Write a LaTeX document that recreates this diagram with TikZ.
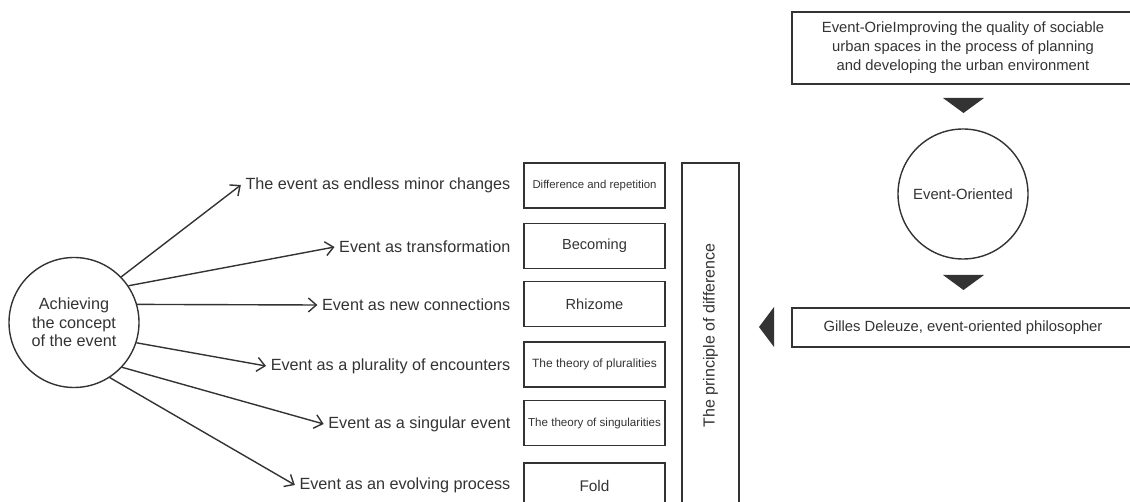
\documentclass[tikz,border=0pt]{standalone}
\usepackage{fontspec}
\setmainfont{Liberation Sans}
\usetikzlibrary{arrows.meta}
\definecolor{ink}{HTML}{333333}

\begin{document}
\begin{tikzpicture}[x=0.5pt,y=-0.5pt,ink,line width=0.7pt,
    every node/.style={text=ink},
    ring/.style={draw,circle,minimum size=65pt,inner sep=0pt,align=center,font=\fontsize{8.1}{9.2}\selectfont},
    lbl/.style={anchor=east,inner sep=2pt,font=\fontsize{8.1}{9.6}\selectfont},
    cell/.style={draw,minimum width=70.5pt,minimum height=22.5pt,inner sep=0pt},
    wide/.style={draw,minimum width=171pt,inner sep=0pt,align=center,font=\fontsize{7.4}{9.5}\selectfont},
    arr/.style={-{Straight Barb[length=4pt,width=7pt]}}]
    \useasboundingbox (0,0) rectangle (1130,502);
    \clip (0,0) rectangle (1130,502);

    % left: the concept and its six readings
    \node[ring] (concept) at (74,322.5) {Achieving\\the concept\\of the event};

    \node[cell,font=\fontsize{5.7}{7}\selectfont] (b1) at (594.5,185.5) {Difference and repetition};
    \node[cell,font=\fontsize{7.3}{9}\selectfont] (b2) at (594.5,246) {Becoming};
    \node[cell,font=\fontsize{7.3}{9}\selectfont] (b3) at (594.5,304) {Rhizome};
    \node[cell,font=\fontsize{6}{7}\selectfont] (b4) at (594.5,364.5) {The theory of pluralities};
    \node[cell,font=\fontsize{5.8}{7}\selectfont] (b5) at (594.5,423) {The theory of singularities};
    \node[cell,font=\fontsize{7.7}{9}\selectfont] (b6) at (594.5,485.5) {Fold};

    \node[lbl] (l1) at (515,185) {The event as endless minor changes};
    \node[lbl] (l2) at (515,247) {Event as transformation};
    \node[lbl] (l3) at (515,305) {Event as new connections};
    \node[lbl] (l4) at (515,366) {Event as a plurality of encounters};
    \node[lbl] (l5) at (515,424) {Event as a singular event};
    \node[lbl] (l6) at (515,485) {Event as an evolving process};

    \draw[arr] (concept.44) -- (l1.west);
    \draw[arr] (concept.34) -- (l2.west);
    \draw[arr] (concept.16) -- (l3.west);
    \draw[arr] (concept.-18) -- (l4.west);
    \draw[arr] (concept.-43) -- (l5.west);
    \draw[arr] (concept.-57) -- (l6.west);

    \node[draw,rotate=90,minimum width=172.5pt,minimum height=28.5pt,inner sep=0pt,
        font=\fontsize{8}{9.6}\selectfont] (diff) at (710.5,335.5) {The principle of difference};

    % right: from the urban aim down to Deleuze
    \node[wide,minimum height=36pt] (aim) at (963,48) {Event-OrieImproving the quality of sociable\\urban spaces in the process of planning\\and developing the urban environment};
    \node[ring,font=\fontsize{7.4}{9}\selectfont] (oriented) at (963,194) {Event-Oriented};
    \node[wide,minimum height=19.5pt] (deleuze) at (963,327.5) {Gilles Deleuze, event-oriented philosopher};

    \fill[ink] (943,98) -- (984,98) -- (963.5,113) -- cycle;
    \fill[ink] (943,275) -- (984,275) -- (963.5,290) -- cycle;
    \fill[ink] (774,307) -- (774,347) -- (759,327) -- cycle;
\end{tikzpicture}
\end{document}
